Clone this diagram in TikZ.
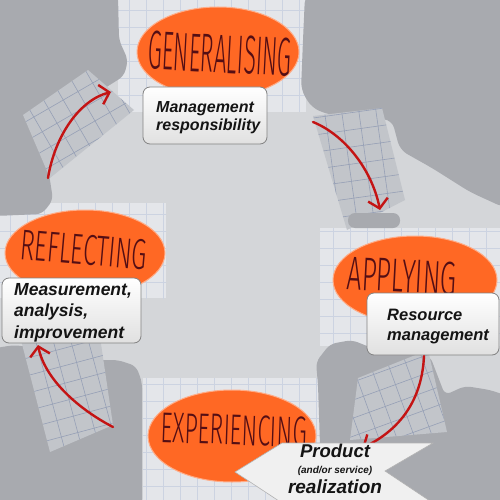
\documentclass[tikz,border=0pt]{standalone}
\usepackage{fontspec}
\setmainfont{Liberation Sans}
\newfontfamily\hand{Fira Sans Light}
\usetikzlibrary{shapes.geometric,arrows.meta}
\definecolor{bgdark}{RGB}{168,170,175}
\definecolor{bglight}{RGB}{212,214,217}
\definecolor{patchc}{RGB}{194,197,202}
\definecolor{paperc}{RGB}{228,230,234}
\definecolor{gridc}{RGB}{150,160,182}
\definecolor{gridp}{RGB}{204,211,225}
\definecolor{orng}{RGB}{255,104,36}
\definecolor{ink}{RGB}{84,14,20}
\definecolor{redarrow}{RGB}{196,20,20}
\definecolor{boxedge}{RGB}{130,130,130}
\newcommand\gridlines[1]{\foreach \g in {-160,-143,...,640} {\draw[#1] (\g,-160) -- (\g,640); \draw[#1] (-160,\g) -- (640,\g);}}
\tikzset{
  boxst/.style={draw=boxedge, line width=0.8pt, rounded corners=7pt, top color=white, bottom color=black!12, inner sep=0pt},
  bt/.style={anchor=base west, inner sep=0pt, text=black!92},
  ct/.style={anchor=base, inner sep=0pt, text=black!92},
  ell/.style={ellipse, fill=orng, draw=orng!55!white, line width=1pt, inner sep=0pt},
  handt/.style={inner sep=0pt, text=ink},
  redarr/.style={draw=redarrow, line width=2.4pt, line cap=round, -{Straight Barb[length=9pt,width=20pt]}},
  gl/.style={draw=gridc, line width=0.6pt},
  glp/.style={draw=gridp, line width=0.5pt},
}
\begin{document}
\begin{tikzpicture}[x=1pt,y=-1pt]
\useasboundingbox (0,0) rectangle (500,500);
\fill[bglight] (0,0) rectangle (500,500);
% papers under the ellipses
\begin{scope}
  \clip (118,-5) rectangle (306,112);
  \fill[paperc] (118,-5) rectangle (306,112);
  \gridlines{glp}
\end{scope}
\begin{scope}
  \clip (-5,203) rectangle (166,298);
  \fill[paperc] (-5,203) rectangle (166,298);
  \gridlines{glp}
\end{scope}
\begin{scope}
  \clip (320,228) rectangle (505,346);
  \fill[paperc] (320,228) rectangle (505,346);
  \gridlines{glp}
\end{scope}
\begin{scope}
  \clip (143,378) rectangle (322,505);
  \fill[paperc] (143,378) rectangle (322,505);
  \gridlines{glp}
\end{scope}
% dark regions
\fill[bgdark, rounded corners=6pt] (-5,-5) -- (118,-5) -- (119,40) -- (128,60) -- (124,76) -- (105,88) -- (40,128) -- (50,180) -- (53,200) -- (42,214) -- (-5,216) -- cycle;
\fill[bgdark, rounded corners=8pt] (305,-5) -- (505,-5) -- (505,208) -- (470,192) -- (432,168) -- (400,150) -- (392,120) -- (330,115) -- (312,108) -- (301,90) -- (303,40) -- cycle;
\fill[bgdark, rounded corners=6pt] (-5,348) -- (15,345) -- (60,352) -- (85,368) -- (92,360) -- (118,360) -- (136,366) -- (142,382) -- (142,505) -- (-5,505) -- cycle;
\fill[bgdark, rounded corners=6pt] (322,505) -- (318,385) -- (316,362) -- (330,344) -- (352,340) -- (372,348) -- (400,352) -- (430,356) -- (445,395) -- (465,386) -- (490,390) -- (505,395) -- (505,505) -- cycle;
% grid patches
\begin{scope}
  \clip (23,115) -- (88,70) -- (134,110) -- (50,178) -- cycle;
  \fill[patchc] (0,50) rectangle (150,200);
  \begin{scope}[rotate around={30:(80,125)}]\gridlines{gl}\end{scope}
\end{scope}
\begin{scope}
  \clip (313,116) -- (382,108) -- (405,200) -- (347,230) -- cycle;
  \fill[patchc] (300,100) rectangle (420,240);
  \begin{scope}[rotate around={8:(360,170)}]\gridlines{gl}\end{scope}
\end{scope}
\begin{scope}
  \clip (8,290) -- (92,283) -- (113,425) -- (50,452) -- cycle;
  \fill[patchc] (0,280) rectangle (120,460);
  \begin{scope}[rotate around={15:(60,370)}]\gridlines{gl}\end{scope}
\end{scope}
\begin{scope}
  \clip (358,378) -- (428,350) -- (447,432) -- (350,440) -- cycle;
  \fill[patchc] (340,340) rectangle (460,450);
  \begin{scope}[rotate around={20:(400,400)}]\gridlines{gl}\end{scope}
\end{scope}
\fill[bgdark, rounded corners=7pt] (348,213) rectangle (400,228);
% ellipses
\node[ell, minimum width=162pt, minimum height=90pt] (eG) at (218,52) {};
\node[ell, minimum width=160pt, minimum height=86pt] (eR) at (85,253) {};
\node[ell, minimum width=164pt, minimum height=88pt] (eA) at (415,280) {};
\node[ell, minimum width=168pt, minimum height=92pt] (eE) at (232,436) {};
\node[handt, rotate=-3] (tG) at (220,54) {\resizebox{144pt}{38pt}{\hand GENERALISING}};
\node[handt, rotate=-5] (tR) at (84,250) {\resizebox{127pt}{30pt}{\hand REFLECTING}};
\node[handt, rotate=-3] (tA) at (402,276) {\resizebox{110pt}{33pt}{\hand APPLYING}};
\node[handt, rotate=-2] (tE) at (234,430) {\resizebox{146pt}{30pt}{\hand EXPERIENCING}};
% text boxes
\node[boxst, minimum width=124pt, minimum height=57pt] (b1) at (205,115.5) {};
\node[bt, font=\fontsize{16}{18}\selectfont\bfseries\itshape] (b1a) at (156,113) {Management};
\node[bt, font=\fontsize{16}{18}\selectfont\bfseries\itshape] (b1b) at (156,131) {responsibility};
\node[boxst, minimum width=139pt, minimum height=65pt] (b2) at (71.5,310.5) {};
\node[bt, font=\fontsize{17.5}{20}\selectfont\bfseries\itshape] (b2a) at (14,295) {Measurement,};
\node[bt, font=\fontsize{17.5}{20}\selectfont\bfseries\itshape] (b2b) at (14,316.5) {analysis,};
\node[bt, font=\fontsize{17.5}{20}\selectfont\bfseries\itshape] (b2c) at (14,338) {improvement};
\node[boxst, minimum width=132pt, minimum height=62pt] (b3) at (433,324) {};
\node[bt, font=\fontsize{16.5}{19}\selectfont\bfseries\itshape] (b3a) at (387,320) {Resource};
\node[bt, font=\fontsize{16.5}{19}\selectfont\bfseries\itshape] (b3b) at (387,340) {management};
% red arrows
\coordinate (a1s) at (48,178); \coordinate (a1e) at (111,92);
\coordinate (a2s) at (313,122); \coordinate (a2e) at (380,210);
\coordinate (a3s) at (424,356); \coordinate (a3e) at (362,448);
\coordinate (a4s) at (113,427); \coordinate (a4e) at (38,345);
\draw[redarr] (a1s) .. controls (55,135) and (80,100) .. (a1e);
\draw[redarr] (a2s) .. controls (345,135) and (372,170) .. (a2e);
\draw[redarr] (a3s) .. controls (422,400) and (400,430) .. (a3e);
\draw[redarr] (a4s) .. controls (80,410) and (45,380) .. (a4e);
% banner
\fill[black!6, draw=black!30, line width=0.6pt] (235,472) -- (282,443) -- (433,443) -- (385,471) -- (433,503) -- (282,503) -- cycle;
\node[ct, font=\fontsize{18.5}{20}\selectfont\bfseries\itshape] (p1) at (335,457) {Product};
\node[ct, font=\fontsize{10}{12}\selectfont\bfseries\itshape] (p2) at (335,473) {(and/or service)};
\node[ct, font=\fontsize{19}{21}\selectfont\bfseries\itshape] (p3) at (335,493) {realization};
\end{tikzpicture}
\end{document}
